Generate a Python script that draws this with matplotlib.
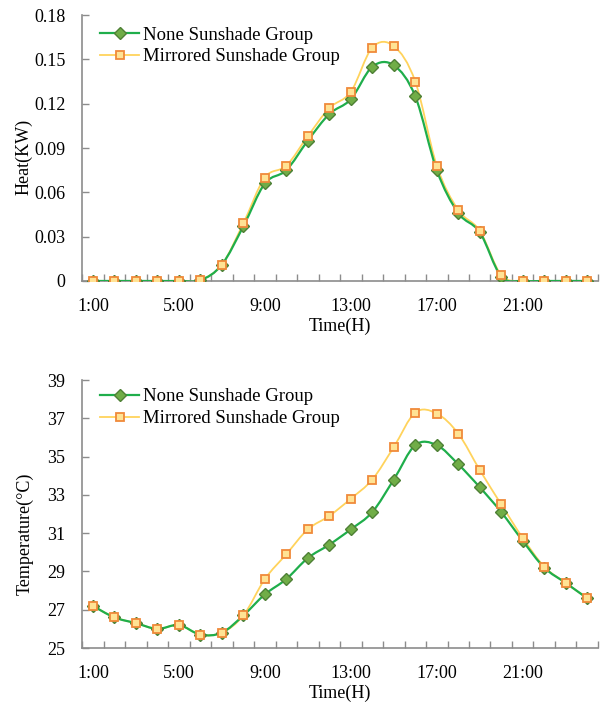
import numpy as np
import matplotlib
matplotlib.use("Agg")
import matplotlib.pyplot as plt
from matplotlib.path import Path
from matplotlib.patches import PathPatch

plt.rcParams["font.family"] = ["Liberation Serif", "DejaVu Serif"]

hours = [f"{h}:00" for h in range(1, 25)]

heat_none = [0, 0, 0, 0, 0, 0.0005, 0.011, 0.037, 0.066, 0.075, 0.095, 0.113,
             0.123, 0.145, 0.146, 0.125, 0.075, 0.046, 0.033, 0.003, 0, 0, 0, 0]
heat_mirror = [0, 0, 0, 0, 0, 0.0008, 0.011, 0.039, 0.070, 0.078, 0.098, 0.117,
               0.128, 0.158, 0.159, 0.135, 0.078, 0.048, 0.034, 0.004, 0, 0, 0, 0]

temp_none = [27.2, 26.6, 26.3, 26.0, 26.2, 25.7, 25.8, 26.7, 27.8, 28.6, 29.7, 30.4,
             31.2, 32.1, 33.8, 35.6, 35.6, 34.6, 33.4, 32.1, 30.6, 29.2, 28.4, 27.6]
temp_mirror = [27.2, 26.6, 26.3, 26.0, 26.2, 25.7, 25.8, 26.7, 28.6, 29.9, 31.2, 31.9,
               32.8, 33.8, 35.5, 37.3, 37.25, 36.2, 34.3, 32.5, 30.75, 29.25, 28.4, 27.6]

GREEN_LINE = "#1fae4b"
GREEN_FACE = "#70ad47"
GREEN_EDGE = "#4e8035"
YELLOW_LINE = "#ffd35c"
YELLOW_FACE = "#ffe394"
YELLOW_EDGE = "#f08a3a"
SPINE = "#8c8c8c"


def smooth_path(xs, ys):
    """Excel-style smoothed line as cubic Bezier segments through the points."""
    pts = np.column_stack([xs, ys]).astype(float)
    n = len(pts)
    verts = [pts[0]]
    codes = [Path.MOVETO]
    for i in range(n - 1):
        p0 = pts[i - 1] if i > 0 else pts[i]
        p1 = pts[i]
        p2 = pts[i + 1]
        p3 = pts[i + 2] if i + 2 < n else pts[i + 1]
        c1 = p1 + (p2 - p0) / 6.0
        c2 = p2 - (p3 - p1) / 6.0
        verts += [c1, c2, p2]
        codes += [Path.CURVE4] * 3
    return Path(verts, codes)


def draw_panel(ax, none_vals, mirror_vals, yticks, ylabels, ylabel, label_xy, legend_y):
    x = np.arange(len(hours))
    ax.add_patch(PathPatch(smooth_path(x, none_vals), fill=False,
                           edgecolor=GREEN_LINE, lw=1.6, zorder=3))
    ax.add_patch(PathPatch(smooth_path(x, mirror_vals), fill=False,
                           edgecolor=YELLOW_LINE, lw=1.3, zorder=2))
    ax.plot(x, none_vals, ls="none", marker="D", ms=5.8, mfc=GREEN_FACE,
            mec=GREEN_EDGE, mew=1.0, zorder=4)
    ax.plot(x, mirror_vals, ls="none", marker="s", ms=5.8, mfc=YELLOW_FACE,
            mec=YELLOW_EDGE, mew=1.3, zorder=5)
    # legend proxies
    ax.plot([], [], color=GREEN_LINE, lw=1.6, marker="D", ms=5.8,
            mfc=GREEN_FACE, mec=GREEN_EDGE, label="None Sunshade Group")
    ax.plot([], [], color=YELLOW_LINE, lw=1.3, marker="s", ms=5.8,
            mfc=YELLOW_FACE, mec=YELLOW_EDGE, mew=1.3, label="Mirrored Sunshade Group")

    ax.set_xlim(-0.5, len(hours) - 0.5)
    ax.set_ylim(yticks[0], yticks[-1])
    ax.set_yticks(yticks)
    ax.set_yticklabels(ylabels)
    ax.set_xticks(x[::4])
    ax.set_xticklabels(hours[::4])
    ax.set_xticks(np.arange(-0.5, len(hours), 1.0), minor=True)
    ax.tick_params(axis="x", which="major", length=0, pad=12, labelsize=13)
    ax.tick_params(axis="x", which="minor", direction="in", length=5,
                   color=SPINE, width=1)
    ax.tick_params(axis="y", direction="in", length=5, color=SPINE,
                   width=1, labelsize=13, pad=12)
    for side in ("top", "right"):
        ax.spines[side].set_visible(False)
    for side in ("left", "bottom"):
        ax.spines[side].set_color(SPINE)
        ax.spines[side].set_linewidth(1.2)
    ax.set_xlabel("Time(H)", fontsize=13, labelpad=2)
    ax.set_ylabel(ylabel, fontsize=13)
    ax.yaxis.set_label_coords(*label_xy)
    ax.legend(loc="upper left", frameon=False, fontsize=13.5, handlelength=2.1,
              handletextpad=0.2, labelspacing=0.25, borderaxespad=0.0,
              bbox_to_anchor=(0.02, legend_y))


fig = plt.figure(figsize=(6.04, 7.09), dpi=100)
ax1 = fig.add_axes([0.136, 0.6037, 0.854, 0.3751])
ax2 = fig.add_axes([0.136, 0.086, 0.854, 0.378])

heat_ticks = [0, 0.03, 0.06, 0.09, 0.12, 0.15, 0.18]
draw_panel(ax1, heat_none, heat_mirror, heat_ticks,
           ["0", "0.03", "0.06", "0.09", "0.12", "0.15", "0.18"], "Heat(KW)",
           (-0.097, 0.466), 0.985)

temp_ticks = [25, 27, 29, 31, 33, 35, 37, 39]
draw_panel(ax2, temp_none, temp_mirror, temp_ticks,
           [str(t) for t in temp_ticks], "Temperature(\u00b0C)",
           (-0.093, 0.425), 0.997)

fig.savefig("out.png", dpi=100)
